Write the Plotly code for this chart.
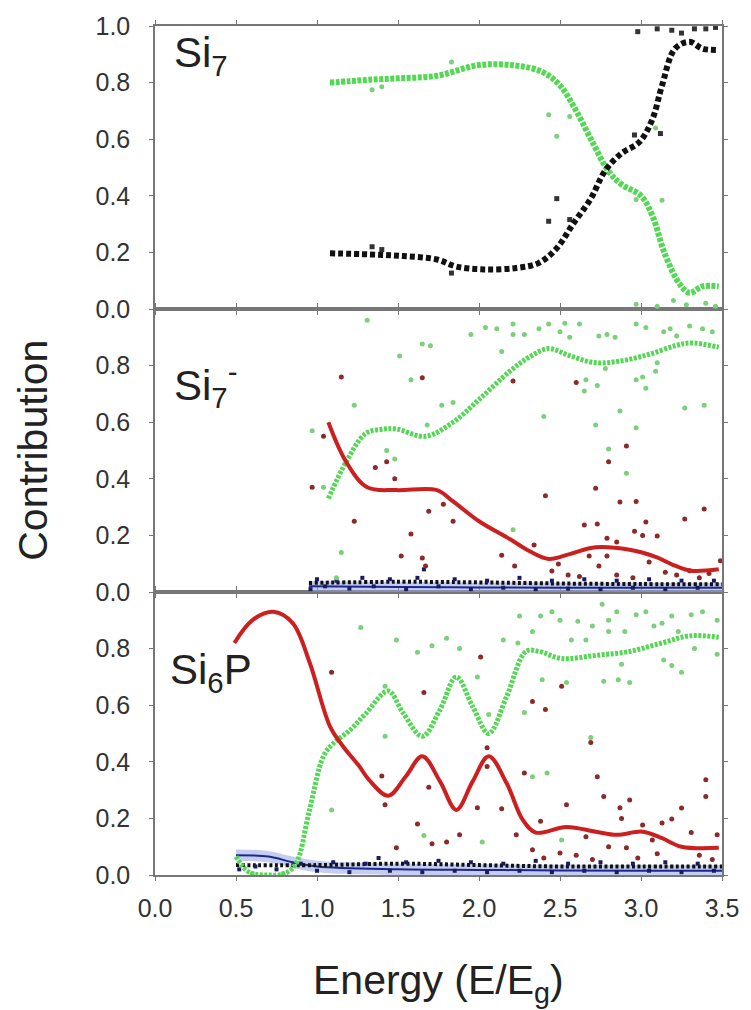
import plotly.graph_objects as go

# ---------------- data ----------------
energy_ticks = [0.0, 0.5, 1.0, 1.5, 2.0, 2.5, 3.0, 3.5]
energy_labels = ["0.0", "0.5", "1.0", "1.5", "2.0", "2.5", "3.0", "3.5"]
contrib_ticks_top = [0.0, 0.2, 0.4, 0.6, 0.8, 1.0]
contrib_labels_top = ["0.0", "0.2", "0.4", "0.6", "0.8", "1.0"]
contrib_ticks = [0.0, 0.2, 0.4, 0.6, 0.8]
contrib_labels = ["0.0", "0.2", "0.4", "0.6", "0.8"]

# Panel Si7
si7_green_x = [1.08, 1.20, 1.32, 1.50, 1.74, 2.00, 2.23, 2.39, 2.50, 2.60, 2.70, 2.80, 2.88, 3.00, 3.07, 3.15, 3.24, 3.30, 3.38, 3.48]
si7_green_y = [0.80, 0.805, 0.81, 0.815, 0.824, 0.862, 0.86, 0.838, 0.79, 0.70, 0.59, 0.486, 0.44, 0.40, 0.33, 0.19, 0.087, 0.057, 0.08, 0.08]
si7_black_x = [1.08, 1.32, 1.53, 1.74, 1.86, 2.03, 2.23, 2.37, 2.48, 2.58, 2.69, 2.78, 2.88, 2.99, 3.07, 3.13, 3.21, 3.30, 3.38, 3.48]
si7_black_y = [0.197, 0.193, 0.187, 0.175, 0.15, 0.14, 0.145, 0.163, 0.215, 0.30, 0.39, 0.49, 0.55, 0.59, 0.67, 0.79, 0.92, 0.944, 0.92, 0.915]
si7_green_pts = [(1.34, 0.775), (1.40, 0.785), (1.83, 0.873), (2.43, 0.686), (2.48, 0.61), (2.56, 0.68),
                 (2.97, 0.387), (3.09, 0.64), (3.13, 0.384), (2.97, 0.017), (3.10, 0.01), (3.20, 0.03),
                 (3.28, 0.015), (3.40, 0.02), (3.46, 0.01)]
si7_black_pts = [(1.34, 0.22), (1.40, 0.21), (1.83, 0.127), (2.43, 0.31), (2.48, 0.39), (2.56, 0.316),
                 (2.96, 0.615), (3.12, 0.62), (2.98, 0.98), (3.10, 0.99), (3.19, 0.985), (3.25, 0.975),
                 (3.33, 0.99), (3.40, 0.99), (3.46, 0.995)]

# Panel Si7-
si7m_green_x = [1.07, 1.18, 1.30, 1.40, 1.49, 1.67, 1.84, 2.00, 2.19, 2.31, 2.43, 2.56, 2.72, 2.88, 3.05, 3.21, 3.31, 3.48]
si7m_green_y = [0.33, 0.46, 0.56, 0.575, 0.576, 0.55, 0.60, 0.68, 0.78, 0.83, 0.86, 0.835, 0.81, 0.817, 0.84, 0.87, 0.88, 0.865]
si7m_red_x = [1.07, 1.18, 1.31, 1.49, 1.74, 1.84, 2.00, 2.19, 2.31, 2.43, 2.56, 2.72, 2.93, 3.09, 3.21, 3.31, 3.48]
si7m_red_y = [0.60, 0.46, 0.37, 0.36, 0.36, 0.32, 0.25, 0.187, 0.145, 0.117, 0.134, 0.158, 0.149, 0.124, 0.093, 0.075, 0.08]
si7m_blue_x = [0.95, 1.5, 2.0, 2.5, 3.0, 3.5]
si7m_blue_y = [0.02, 0.018, 0.016, 0.015, 0.015, 0.015]
si7m_black_x = [0.95, 1.5, 2.0, 2.5, 3.0, 3.5]
si7m_black_y = [0.032, 0.036, 0.034, 0.03, 0.028, 0.027]
si7m_green_pts = [(1.31, 0.96), (1.23, 0.66), (0.97, 0.57), (1.04, 0.37), (1.15, 0.14), (1.51, 0.834),
                  (1.65, 0.876), (1.70, 0.87), (1.58, 0.75), (1.68, 0.59), (1.77, 0.66), (1.84, 0.67),
                  (1.43, 0.50), (1.48, 0.47), (1.95, 0.91), (2.04, 0.935), (2.11, 0.93), (2.14, 0.85),
                  (2.21, 0.947), (2.21, 0.91), (2.28, 0.91), (2.37, 0.93), (2.43, 0.947), (2.50, 0.92),
                  (2.53, 0.95), (2.56, 0.90), (2.62, 0.947), (2.40, 0.62), (2.66, 0.75), (2.65, 0.71),
                  (2.73, 0.73), (2.72, 0.59), (2.74, 0.905), (2.79, 0.91), (2.78, 0.79), (2.87, 0.64),
                  (2.80, 0.505), (2.91, 0.42), (2.97, 0.58), (2.97, 0.75), (3.01, 0.76), (3.03, 0.72),
                  (3.09, 0.78), (3.10, 0.81), (2.97, 0.947), (3.03, 0.935), (3.14, 0.92), (3.18, 0.93),
                  (3.27, 0.65), (3.39, 0.66), (3.30, 0.94), (3.38, 0.93), (3.44, 0.92), (2.21, 0.22),
                  (2.84, 0.90), (3.22, 0.905), (1.12, 0.05)]
si7m_red_pts = [(1.15, 0.76), (1.04, 0.55), (0.97, 0.37), (1.23, 0.25), (1.36, 0.44), (1.65, 0.757),
                (1.43, 0.46), (1.48, 0.40), (1.69, 0.285), (1.78, 0.31), (1.84, 0.25), (1.58, 0.205),
                (1.52, 0.127), (1.65, 0.12), (1.67, 0.092), (2.14, 0.13), (2.22, 0.092), (2.34, 0.166),
                (2.21, 0.746), (2.41, 0.34), (2.60, 0.74), (2.72, 0.367), (2.65, 0.237), (2.73, 0.24),
                (2.80, 0.46), (2.91, 0.516), (2.87, 0.318), (2.97, 0.32), (2.79, 0.19), (2.85, 0.177),
                (2.96, 0.215), (3.01, 0.20), (3.03, 0.247), (3.10, 0.198), (3.27, 0.258), (3.39, 0.293),
                (3.49, 0.11), (2.68, 0.127), (2.79, 0.127), (2.45, 0.074), (2.49, 0.099), (2.74, 0.092),
                (3.05, 0.106), (2.55, 0.06), (2.62, 0.055), (2.85, 0.06), (2.95, 0.05), (3.15, 0.07),
                (3.22, 0.06), (3.30, 0.075), (3.36, 0.05), (3.42, 0.065)]
si7m_dark_pts = [(0.96, 0.01), (1.00, 0.045), (1.05, 0.02), (1.12, 0.04), (1.20, 0.012), (1.28, 0.05),
                 (1.35, 0.02), (1.45, 0.045), (1.55, 0.01), (1.62, 0.05), (1.66, 0.08), (1.75, 0.02),
                 (1.85, 0.045), (1.95, 0.01), (2.05, 0.04), (2.15, 0.015), (2.25, 0.05), (2.35, 0.01),
                 (2.45, 0.04), (2.55, 0.012), (2.65, 0.045), (2.75, 0.01), (2.85, 0.04), (2.95, 0.015),
                 (3.05, 0.045), (3.15, 0.01), (3.25, 0.04), (3.35, 0.015), (3.45, 0.04)]

# Panel Si6P
si6p_green_x = [0.50, 0.58, 0.70, 0.80, 0.87, 0.95, 1.04, 1.10, 1.20, 1.30, 1.44, 1.53, 1.65, 1.76, 1.86, 1.96, 2.06, 2.17, 2.29, 2.37, 2.51, 2.72, 2.93, 3.13, 3.30, 3.48]
si6p_green_y = [0.065, 0.01, 0.0, 0.005, 0.04, 0.22, 0.42, 0.465, 0.51, 0.57, 0.65, 0.574, 0.49, 0.585, 0.70, 0.596, 0.50, 0.63, 0.79, 0.79, 0.765, 0.776, 0.79, 0.82, 0.845, 0.84]
si6p_red_x = [0.49, 0.60, 0.73, 0.85, 0.955, 1.08, 1.16, 1.26, 1.32, 1.44, 1.55, 1.65, 1.76, 1.86, 1.96, 2.06, 2.17, 2.27, 2.35, 2.54, 2.72, 2.85, 3.01, 3.13, 3.25, 3.48]
si6p_red_y = [0.82, 0.90, 0.93, 0.89, 0.75, 0.525, 0.455, 0.385, 0.337, 0.28, 0.35, 0.42, 0.33, 0.23, 0.33, 0.42, 0.325, 0.195, 0.15, 0.17, 0.153, 0.142, 0.153, 0.13, 0.10, 0.096]
si6p_blue_x = [0.50, 0.70, 0.85, 1.0, 1.5, 2.0, 2.5, 3.0, 3.5]
si6p_blue_y = [0.07, 0.065, 0.045, 0.03, 0.02, 0.018, 0.016, 0.015, 0.015]
si6p_black_x = [0.50, 1.0, 1.5, 2.0, 2.5, 3.0, 3.5]
si6p_black_y = [0.035, 0.035, 0.04, 0.035, 0.03, 0.03, 0.03]
si6p_green_pts = [(1.27, 0.875), (1.09, 0.23), (1.49, 0.83), (1.62, 0.787), (1.71, 0.81), (1.80, 0.837),
                  (1.88, 0.80), (1.99, 0.70), (2.15, 0.83), (2.24, 0.82), (2.25, 0.915), (2.38, 0.915),
                  (2.45, 0.93), (2.28, 0.574), (2.33, 0.86), (2.39, 0.69), (2.54, 0.68), (2.57, 0.83),
                  (2.61, 0.897), (2.66, 0.83), (2.76, 0.957), (2.80, 0.90), (2.85, 0.93), (2.80, 0.86),
                  (2.90, 0.86), (2.77, 0.685), (2.86, 0.69), (2.93, 0.68), (2.88, 0.745), (2.97, 0.92),
                  (3.03, 0.93), (3.13, 0.89), (3.14, 0.76), (3.19, 0.915), (3.19, 0.74), (3.25, 0.716),
                  (3.31, 0.92), (3.33, 0.80), (3.38, 0.93), (3.47, 0.90), (3.47, 0.78), (1.42, 0.667),
                  (1.42, 0.49), (2.06, 0.567), (2.33, 0.347), (2.42, 0.36), (1.66, 0.14), (2.02, 0.117),
                  (2.51, 0.124), (2.69, 0.486), (2.50, 0.90), (2.70, 0.88), (3.08, 0.88), (3.23, 0.86),
                  (0.60, 0.005), (0.79, 0.005)]
si6p_red_pts = [(1.09, 0.716), (2.01, 0.77), (1.66, 0.645), (2.05, 0.45), (2.05, 0.383), (2.33, 0.613),
                (2.41, 0.585), (2.51, 0.667), (2.69, 0.468), (2.28, 0.36), (1.40, 0.35), (1.42, 0.248),
                (1.69, 0.31), (1.99, 0.238), (2.14, 0.234), (2.54, 0.248), (2.73, 0.347), (2.77, 0.277),
                (2.87, 0.238), (2.93, 0.265), (2.88, 0.20), (3.13, 0.184), (3.19, 0.198), (3.25, 0.237),
                (3.40, 0.277), (3.40, 0.337), (1.62, 0.18), (1.88, 0.142), (1.80, 0.117), (1.71, 0.11),
                (1.49, 0.096), (2.23, 0.142), (2.38, 0.19), (2.33, 0.089), (2.50, 0.078), (2.66, 0.135),
                (2.80, 0.10), (2.91, 0.096), (3.01, 0.177), (3.07, 0.124), (3.31, 0.15), (3.47, 0.142),
                (2.40, 0.06), (2.60, 0.07), (2.70, 0.055), (2.98, 0.06), (3.10, 0.075), (3.36, 0.07),
                (3.44, 0.055)]
si6p_dark_pts = [(0.52, 0.02), (0.62, 0.03), (0.75, 0.02), (0.90, 0.04), (1.00, 0.015), (1.10, 0.045),
                 (1.20, 0.01), (1.30, 0.04), (1.38, 0.06), (1.45, 0.015), (1.55, 0.045), (1.65, 0.01),
                 (1.75, 0.05), (1.85, 0.015), (1.95, 0.045), (2.05, 0.01), (2.15, 0.04), (2.25, 0.015),
                 (2.35, 0.05), (2.45, 0.01), (2.55, 0.04), (2.65, 0.015), (2.75, 0.045), (2.85, 0.01),
                 (2.95, 0.04), (3.05, 0.015), (3.15, 0.045), (3.25, 0.01), (3.35, 0.04), (3.45, 0.015)]

panel_labels = ["Si<sub>7</sub>", "Si<sub>7</sub><sup>-</sup>", "Si<sub>6</sub>P"]

# ---------------- style ----------------
GREEN = "#52d852"
GREEN_PT = "#7ccf7c"
RED = "#cc2020"
RED_PT = "#8a2a2a"
BLACK = "#111111"
NAVY = "#1c2890"
BAND = "rgba(150,165,230,0.55)"
AX = "#777777"
FONT = "Liberation Sans, Arial, sans-serif"

fig = go.Figure()


def pts(trace_pts, color, size, xa, ya, symbol="circle"):
    fig.add_trace(go.Scatter(x=[p[0] for p in trace_pts], y=[p[1] for p in trace_pts], mode="markers",
                             marker=dict(color=color, size=size, symbol=symbol,
                                         line=dict(width=0)),
                             xaxis=xa, yaxis=ya, showlegend=False, hoverinfo="skip"))


def curve(x, y, color, width, dash, xa, ya):
    fig.add_trace(go.Scatter(x=x, y=y, mode="lines",
                             line=dict(color=color, width=width, dash=dash, shape="spline", smoothing=1.0),
                             xaxis=xa, yaxis=ya, showlegend=False, hoverinfo="skip"))


def band(x, y, half, xa, ya):
    fig.add_trace(go.Scatter(x=x, y=[v + half for v in y], mode="lines", line=dict(width=0, shape="spline"),
                             xaxis=xa, yaxis=ya, showlegend=False, hoverinfo="skip"))
    fig.add_trace(go.Scatter(x=x, y=[max(v - half, 0) for v in y], mode="lines",
                             line=dict(width=0, shape="spline"), fill="tonexty", fillcolor=BAND,
                             xaxis=xa, yaxis=ya, showlegend=False, hoverinfo="skip"))
    fig.add_trace(go.Scatter(x=x, y=y, mode="lines", line=dict(color=NAVY, width=2, shape="spline"),
                             xaxis=xa, yaxis=ya, showlegend=False, hoverinfo="skip"))


# Top panel (x3, y3)
pts(si7_green_pts, GREEN_PT, 5, "x3", "y3")
pts(si7_black_pts, "#333333", 5, "x3", "y3", "square")
curve(si7_green_x, si7_green_y, GREEN, 6, "4px,1.5px", "x3", "y3")
curve(si7_black_x, si7_black_y, BLACK, 6, "5px,3px", "x3", "y3")

# Middle panel (x2, y2)
band(si7m_blue_x, si7m_blue_y, 0.018, "x2", "y2")
curve(si7m_black_x, si7m_black_y, BLACK, 4, "3px,2.5px", "x2", "y2")
pts(si7m_dark_pts, "#1a1a60", 4, "x2", "y2", "square")
pts(si7m_green_pts, GREEN_PT, 5, "x2", "y2")
pts(si7m_red_pts, RED_PT, 5, "x2", "y2")
curve(si7m_green_x, si7m_green_y, GREEN, 5, "3px,1.5px", "x2", "y2")
curve(si7m_red_x, si7m_red_y, RED, 4, "solid", "x2", "y2")

# Bottom panel (x, y)
band(si6p_blue_x, si6p_blue_y, 0.02, "x", "y")
curve(si6p_black_x, si6p_black_y, BLACK, 4, "3px,2.5px", "x", "y")
pts(si6p_dark_pts, "#1a1a60", 4, "x", "y", "square")
pts(si6p_green_pts, GREEN_PT, 5, "x", "y")
pts(si6p_red_pts, RED_PT, 5, "x", "y")
curve(si6p_green_x, si6p_green_y, GREEN, 5, "3px,1.5px", "x", "y")
curve(si6p_red_x, si6p_red_y, RED, 4, "solid", "x", "y")

common_axis = dict(showline=True, linecolor=AX, linewidth=1.5, mirror="ticks", ticks="outside",
                   ticklen=4, tickwidth=1.2, tickcolor=AX, showgrid=False, zeroline=False,
                   tickfont=dict(size=25, color="#333333", family=FONT))

fig.update_layout(
    width=751, height=1010,
    margin=dict(l=155, r=28, t=24, b=135),
    paper_bgcolor="white", plot_bgcolor="white",
    font=dict(family=FONT, color="#222222"),
    xaxis=dict(domain=[0, 1], range=[0, 3.5], anchor="y", tickvals=energy_ticks, ticktext=energy_labels,
               ticklabelstandoff=6, **common_axis),
    xaxis2=dict(domain=[0, 1], range=[0, 3.5], anchor="y2", tickvals=energy_ticks, showticklabels=False,
                **common_axis),
    xaxis3=dict(domain=[0, 1], range=[0, 3.5], anchor="y3", tickvals=energy_ticks, showticklabels=False,
                **common_axis),
    yaxis=dict(domain=[0, 1 / 3], range=[0, 1], anchor="x", tickvals=contrib_ticks, ticktext=contrib_labels,
               ticklabelstandoff=14, **common_axis),
    yaxis2=dict(domain=[1 / 3, 2 / 3], range=[0, 1], anchor="x2", tickvals=contrib_ticks,
                ticktext=contrib_labels, ticklabelstandoff=14, **common_axis),
    yaxis3=dict(domain=[2 / 3, 1], range=[0, 1], anchor="x3", tickvals=contrib_ticks_top,
                ticktext=contrib_labels_top, ticklabelstandoff=14, **common_axis),
)

# panel labels
label_pos = [(0.03, 0.965), (0.03, 0.578), (0.023, 0.238)]
for txt, (px, py) in zip(panel_labels, label_pos):
    fig.add_annotation(text=txt, xref="paper", yref="paper", x=px, y=py, xanchor="left", yanchor="middle",
                       showarrow=False, font=dict(size=42, color="#222222", family=FONT))

fig.add_annotation(text="Contribution", xref="paper", yref="paper", x=-0.2165, y=0.5, textangle=-90,
                   xanchor="center", yanchor="middle", showarrow=False,
                   font=dict(size=41, color="#222222", family=FONT))
fig.add_annotation(text="Energy (E/E<sub>g</sub>)", xref="paper", yref="paper", x=0.5, y=-0.127,
                   xanchor="center", yanchor="middle", showarrow=False,
                   font=dict(size=41, color="#222222", family=FONT))

fig.write_html("out.html")
